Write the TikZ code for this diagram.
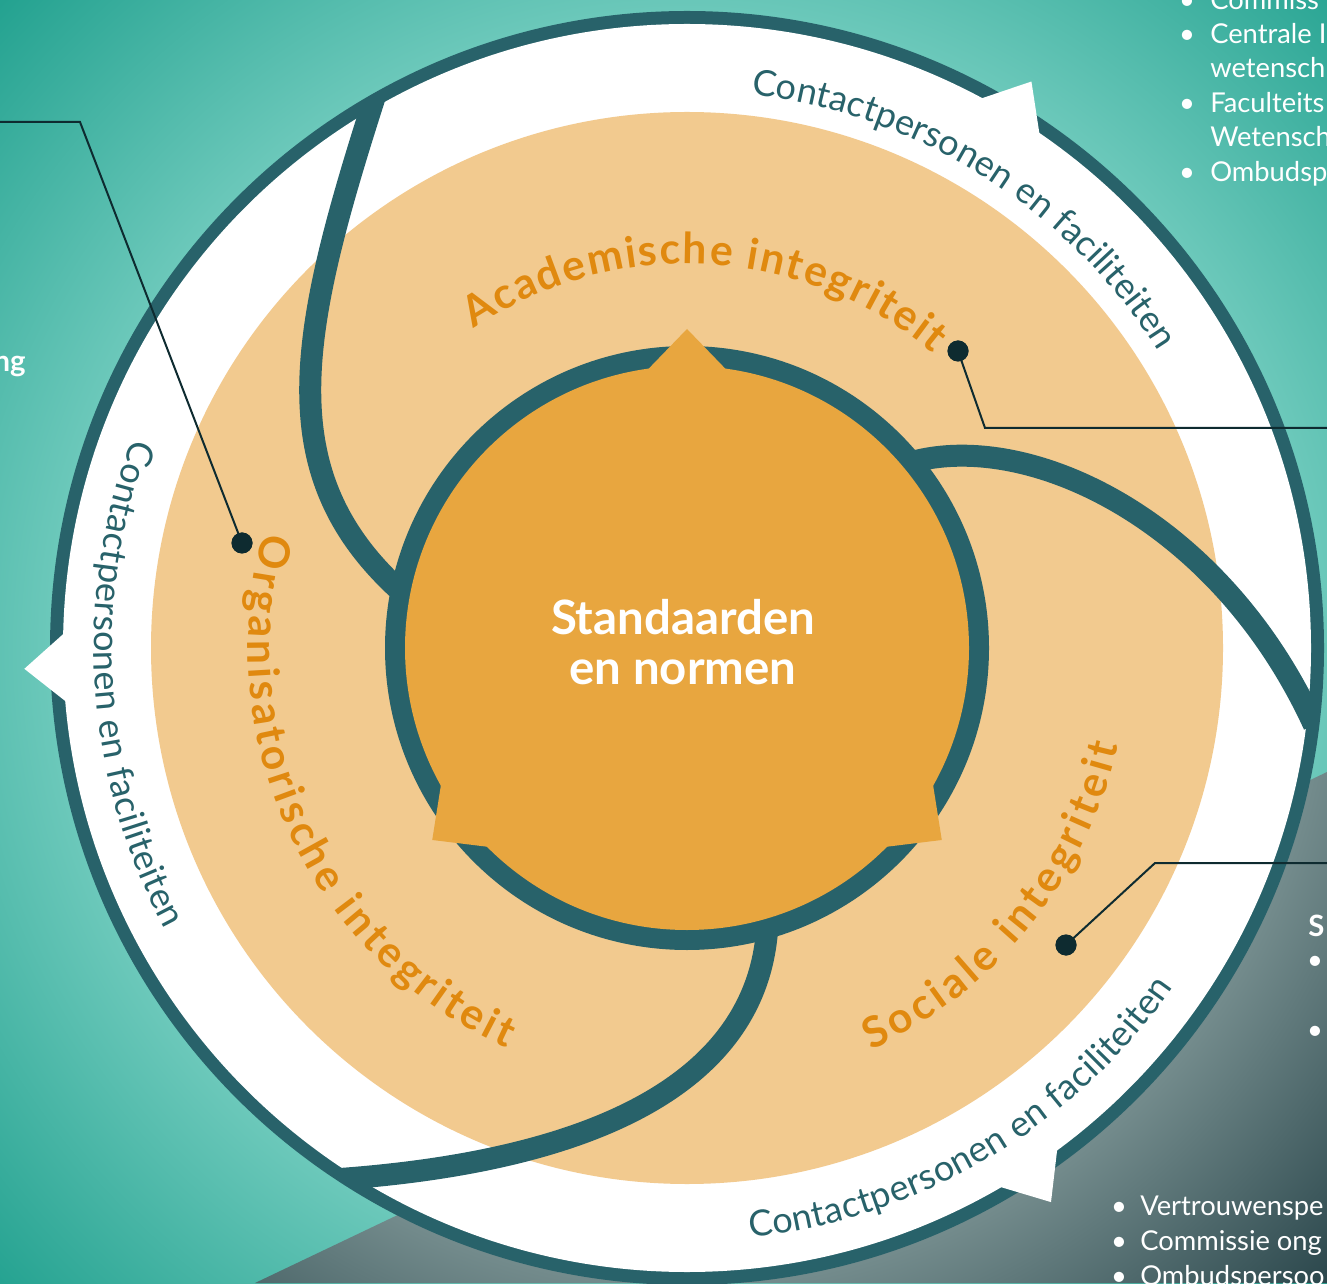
\documentclass[tikz,border=0pt]{standalone}
\usepackage{fontspec}
\setmainfont{Lato}
\newfontfamily\latofont{Lato}
\usetikzlibrary{decorations.text}
\definecolor{ringc}{HTML}{28626A}
\definecolor{peachc}{HTML}{F2CA8F}
\definecolor{orangec}{HTML}{E8A63F}
\definecolor{labelc}{HTML}{E0890F}
\definecolor{dotc}{HTML}{0E2B30}
\definecolor{tealL}{HTML}{6BC8BA}
\definecolor{tealD}{HTML}{22A18F}
\definecolor{greyL}{HTML}{738B8C}
\definecolor{greyD}{HTML}{2B474C}
\pgfdeclareradialshading{tealshade}{\pgfpoint{0bp}{0bp}}{color(0bp)=(tealL); color(16.8bp)=(tealL); color(25bp)=(tealD); color(50bp)=(tealD)}
\pgfdeclareradialshading{greyshade}{\pgfpoint{0bp}{0bp}}{color(0bp)=(greyL); color(16.8bp)=(greyL); color(23.7bp)=(greyD); color(50bp)=(greyD)}
\newcommand\contactfont{\latofont\fontsize{27pt}{30pt}\selectfont}
\newcommand\labelfont{\latofont\bfseries\fontsize{32pt}{36pt}\selectfont}
\newcommand\centerfont{\latofont\bfseries\fontsize{35.5pt}{37.5pt}\selectfont}
\newcommand\sidefont{\latofont\fontsize{20.5pt}{26pt}\selectfont}
\newcommand\sideboldfont{\latofont\bfseries\fontsize{22pt}{26pt}\selectfont}
\begin{document}
\begin{tikzpicture}[x=0.75pt,y=0.75pt,
  swirl/.style={draw=ringc, line width=16.5pt},
  leader/.style={draw=dotc, line width=1.5pt},
  dotmark/.style={circle, fill=dotc, inner sep=0pt, minimum size=15.75pt},
  tabshape/.style={fill=white},
  arrowtri/.style={fill=orangec},
  sidetext/.style={text=white, font=\sidefont, anchor=base west, inner sep=0pt},
  sidebullet/.style={text=white, font=\sidefont, anchor=base, inner sep=0pt},
  sidebold/.style={text=white, font=\sideboldfont, inner sep=0pt},
  centertext/.style={text=white, font=\centerfont, align=center, inner sep=0pt},
  contactlabel/.style={decorate, decoration={text along path, text align=fit to path, text color=ringc, text={|\contactfont|#1}}},
  integlabel/.style={decorate, decoration={text along path, text align=fit to path, text color=labelc, text={|\labelfont|#1}}}
]
\useasboundingbox (0,0) rectangle (1327,1283);
\coordinate (C) at (687,635);
\begin{scope}
\clip (0,0) rectangle (1327,1283);
% background
\shade[shading=tealshade] (C) circle (950);
\begin{scope}
  \clip (255,0) -- (1327,511) -- (1327,0) -- cycle;
  \shade[shading=greyshade] (C) circle (950);
\end{scope}
% rings
\fill[ringc] (C) circle (637);
\fill[white] (C) circle (624);
\fill[peachc] (C) circle (536);
% swirls
\begin{scope}
  \clip (C) circle (630);
  \draw[swirl] (397,695) .. controls (270,813) and (300,953) .. (375,1187);
  \draw[swirl] (912,821) .. controls (1030,853) and (1220,763) .. (1314,558);
  \draw[swirl] (767,352) .. controls (755,203) and (600,123) .. (340,104);
\end{scope}
% centre
\fill[ringc] (C) circle (302);
\fill[orangec] (C) circle (282);
\foreach \a in {90,217,323}{
  \fill[arrowtri] ([shift={(\a:319)}]C) coordinate (tip)
     -- ([shift={(\a+136:60)}]tip) -- ([shift={(\a+224:60)}]tip) -- cycle;
}
% white tabs on the outer ring
\foreach \a in {58.7,181.8,-56.7}{
  \fill[tabshape] ([shift={(\a+3.6:618)}]C) -- ([shift={(\a:663)}]C) -- ([shift={(\a-3.6:618)}]C) -- cycle;
}
% curved texts
\path[contactlabel={Contactpersonen en faciliteiten}] ([shift={(83.4:557)}]C) arc[start angle=83.4, end angle=32.2, radius=557];
\path[contactlabel={Contactpersonen en faciliteiten}] ([shift={(159.3:593)}]C) arc[start angle=159.3, end angle=208.3, radius=593];
\path[contactlabel={Contactpersonen en faciliteiten}] ([shift={(-83.9:593)}]C) arc[start angle=-83.9, end angle=-34.9, radius=593];
\path[integlabel={Academische integriteit}] ([shift={(123.8:384)}]C) arc[start angle=123.8, end angle=50.2, radius=384];
\path[integlabel={Organisatorische integriteit}] ([shift={(164.8:439)}]C) arc[start angle=164.8, end angle=245.7, radius=439];
\path[integlabel={Sociale integriteit}] ([shift={(-65.4:442)}]C) arc[start angle=-65.4, end angle=-12.7, radius=442];
\node[centertext] (std) at (683,641) {Standaarden\\en normen};
% leaders and dots
\coordinate (l1a) at (985,855);  \coordinate (l1b) at (1327,855);
\coordinate (l2a) at (80,1161);  \coordinate (l2b) at (0,1161);
\coordinate (l3a) at (1155,420); \coordinate (l3b) at (1327,420);
\node[dotmark] (d1) at (958,932) {};
\node[dotmark] (d2) at (242,740) {};
\node[dotmark] (d3) at (1066,338) {};
\draw[leader] (d1.center) -- (l1a) -- (l1b);
\draw[leader] (d2.center) -- (l2a) -- (l2b);
\draw[leader] (d3.center) -- (l3a) -- (l3b);
\node[dotmark] at (d1) {};
\node[dotmark] at (d2) {};
\node[dotmark] at (d3) {};
% side texts top right
\node[sidebullet] (b1) at (1187,1273) {\textbullet};
\node[sidetext] (t1) at (1210,1273) {Commiss};
\node[sidebullet] (b2) at (1187,1239) {\textbullet};
\node[sidetext] (t2) at (1210,1239) {Centrale I};
\node[sidetext] (t3) at (1210,1205) {wetensch};
\node[sidebullet] (b4) at (1187,1170) {\textbullet};
\node[sidetext] (t4) at (1210,1170) {Faculteits};
\node[sidetext] (t5) at (1210,1136) {Wetensch};
\node[sidebullet] (b6) at (1187,1101) {\textbullet};
\node[sidetext] (t6) at (1210,1101) {Ombudsp};
% left
\node[sidebold, anchor=base east] (ng) at (26,911) {ng};
% right
\node[sidebold, anchor=base west] (s1) at (1308,347) {S};
\node[sidebullet] (rb1) at (1315,314) {\textbullet};
\node[sidebullet] (rb2) at (1315,244) {\textbullet};
% bottom right
\node[sidebullet] (bb1) at (1119,68) {\textbullet};
\node[sidetext] (bt1) at (1140,68) {Vertrouwenspe};
\node[sidebullet] (bb2) at (1119,33) {\textbullet};
\node[sidetext] (bt2) at (1140,33) {Commissie ong};
\node[sidebullet] (bb3) at (1119,-2) {\textbullet};
\node[sidetext] (bt3) at (1140,-2) {Ombudspersoo};
\end{scope}
\end{tikzpicture}
\end{document}
